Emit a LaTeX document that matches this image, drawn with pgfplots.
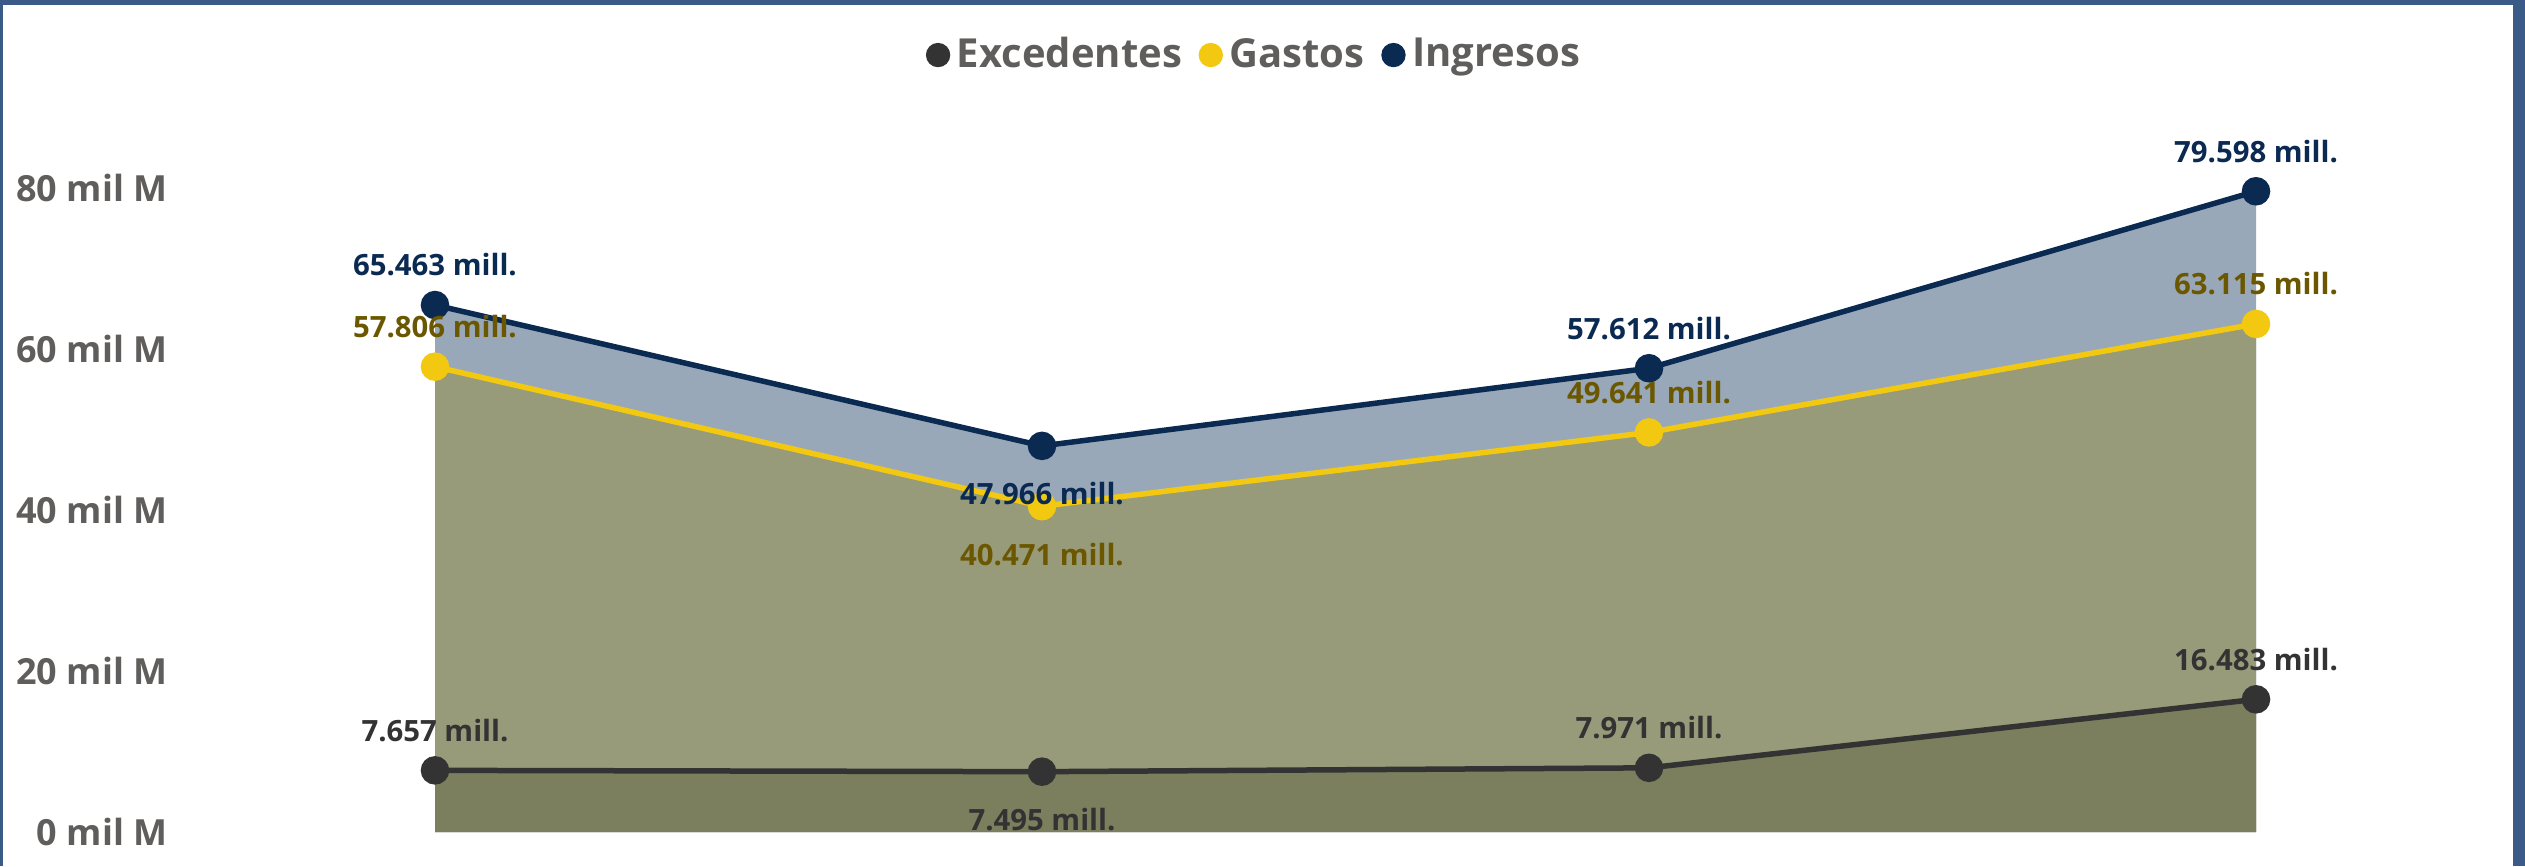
\documentclass[border=0pt]{standalone}
\usepackage{pgfplots}
\pgfplotsset{compat=1.18}
\usepackage{fontspec}
\setmainfont{Open Sans}
\definecolor{navy}{HTML}{0B2A52}
\definecolor{gold}{HTML}{F2C811}
\definecolor{excgray}{HTML}{333333}
\definecolor{ingfill}{HTML}{99A8B9}
\definecolor{gasfill}{HTML}{979B7A}
\definecolor{excfill}{HTML}{7B7F5E}
\definecolor{gaslab}{HTML}{6B5700}
\definecolor{txtgray}{HTML}{605E5C}
\definecolor{frame}{HTML}{3A5A87}
\begin{document}
\begin{tikzpicture}[x=1pt,y=1pt]
\useasboundingbox (0,0) rectangle (757.5,259.8);
\begin{axis}[
  at={(130.5pt,10.2pt)}, anchor=south west,
  scale only axis, width=546.3pt, height=193.2pt,
  xmin=0, xmax=3, ymin=0, ymax=80, clip=false,
  axis line style={draw=none}, major tick length=0pt,
  xtick=\empty,
  ytick={0,20,40,60,80},
  yticklabels={0 mil M,20 mil M,40 mil M,60 mil M,80 mil M},
  yticklabel style={font=\fontsize{10.8}{12}\selectfont\bfseries, text=txtgray, anchor=east, inner sep=0pt, xshift=-80.1pt},
  legend columns=3,
  legend image code/.code={\fill[#1] (3.45pt,0pt) circle (3.45pt);},
  legend style={draw=none, fill=none, at={(axis description cs:0.451,1.2065)}, anchor=center,
    font=\fontsize{12.0}{14}\selectfont\bfseries, text=txtgray,
    /tikz/every even column/.append style={column sep=3pt}},
  every node near coord/.style={font=\fontsize{8.8}{10}\selectfont\bfseries, anchor=center, inner sep=0pt},
]
% areas
\addplot[fill=ingfill, draw=none, forget plot] coordinates {(0,65.463) (1,47.966) (2,57.612) (3,79.598)} \closedcycle;
\addplot[fill=gasfill, draw=none, forget plot] coordinates {(0,57.806) (1,40.471) (2,49.641) (3,63.115)} \closedcycle;
\addplot[fill=excfill, draw=none, forget plot] coordinates {(0,7.657) (1,7.495) (2,7.971) (3,16.483)} \closedcycle;
% lines
\addplot[color=navy, line width=1.65pt, mark=*, mark size=3.45pt, mark options={fill=navy, draw=none}, forget plot]
  coordinates {(0,65.463) (1,47.966) (2,57.612) (3,79.598)};
\addplot[color=gold, line width=1.65pt, mark=*, mark size=3.45pt, mark options={fill=gold, draw=none}, forget plot]
  coordinates {(0,57.806) (1,40.471) (2,49.641) (3,63.115)};
\addplot[color=excgray, line width=1.65pt, mark=*, mark size=3.45pt, mark options={fill=excgray, draw=none}, forget plot]
  coordinates {(0,7.657) (1,7.495) (2,7.971) (3,16.483)};
% labels above
\addplot[draw=none, mark=none, forget plot, nodes near coords, point meta=explicit symbolic,
  every node near coord/.append style={text=navy, yshift=12pt}]
  coordinates {(0,65.463) [65.463 mill.] (2,57.612) [57.612 mill.] (3,79.598) [79.598 mill.]};
\addplot[draw=none, mark=none, forget plot, nodes near coords, point meta=explicit symbolic,
  every node near coord/.append style={text=gaslab, yshift=12pt}]
  coordinates {(0,57.806) [57.806 mill.] (2,49.641) [49.641 mill.] (3,63.115) [63.115 mill.]};
\addplot[draw=none, mark=none, forget plot, nodes near coords, point meta=explicit symbolic,
  every node near coord/.append style={text=excgray, yshift=12pt}]
  coordinates {(0,7.657) [7.657 mill.] (2,7.971) [7.971 mill.] (3,16.483) [16.483 mill.]};
% labels below
\addplot[draw=none, mark=none, forget plot, nodes near coords, point meta=explicit symbolic,
  every node near coord/.append style={text=navy, yshift=-14.4pt}]
  coordinates {(1,47.966) [47.966 mill.]};
\addplot[draw=none, mark=none, forget plot, nodes near coords, point meta=explicit symbolic,
  every node near coord/.append style={text=gaslab, yshift=-14.4pt}]
  coordinates {(1,40.471) [40.471 mill.]};
\addplot[draw=none, mark=none, forget plot, nodes near coords, point meta=explicit symbolic,
  every node near coord/.append style={text=excgray, yshift=-14.4pt}]
  coordinates {(1,7.495) [7.495 mill.]};
% legend
\addlegendimage{color=excgray}
\addlegendentry{Excedentes}
\addlegendimage{color=gold}
\addlegendentry{Gastos}
\addlegendimage{color=navy}
\addlegendentry{Ingresos}
\end{axis}
\fill[frame] (0,258.3) rectangle (757.5,259.8);
\fill[frame] (0,0) rectangle (0.9,259.8);
\fill[frame] (753.9,0) rectangle (757.5,259.8);
\end{tikzpicture}
\end{document}
